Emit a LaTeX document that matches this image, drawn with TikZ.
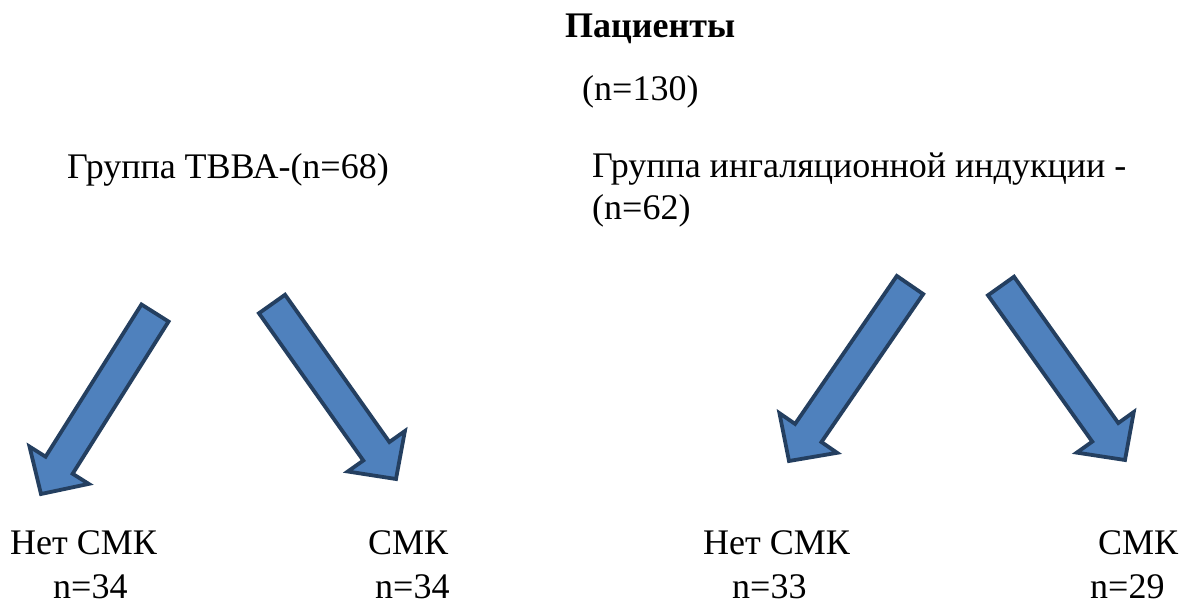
\documentclass[tikz,border=0pt]{standalone}
\usepackage{fontspec}
\setmainfont{Liberation Serif}
\usetikzlibrary{calc,positioning}

\definecolor{arrowfill}{HTML}{4F81BD}
\definecolor{arrowline}{HTML}{243F60}

\tikzset{
  lbl/.style = {anchor = base west, inner sep = 0pt, font = \fontsize{36}{42}\selectfont},
  blockarrow/.style = {fill = arrowfill, draw = arrowline, line width = 3.8pt}
}

% block arrow from tail #1 to tip #2
\newcommand{\blockarrow}[2]{%
\coordinate (#1#2) at ($(#2)!34pt!(#1)$);
\draw[blockarrow] ($(#1)!16pt!90:(#2)$) -- ($(#1#2)!16pt!90:(#2)$) -- ($(#1#2)!35pt!90:(#2)$) -- (#2) -- ($(#1#2)!35pt!-90:(#2)$) -- ($(#1#2)!16pt!-90:(#2)$) -- ($(#1)!16pt!-90:(#2)$) -- cycle;
}

\begin{document}
\begin{tikzpicture}[x = 1pt, y = -1pt]
\fill[white] (0,0) rectangle (1193,605);
\useasboundingbox (0,0) rectangle (1193,605);

\node[lbl, font = \fontsize{36}{42}\selectfont\bfseries] (root) at (565,37) {Пациенты};
\node[lbl] (rootn) at (582,100) {(n=130)};

\node[lbl] (grpA) at (67,178) {Группа ТВВА-(n=68)};
\node[lbl] (grpB) at (592,177) {Группа ингаляционной индукции -};
\node[lbl] (grpBn) at (592,219) {(n=62)};

\node[lbl] (noA) at (10,554) {Нет СМК};
\node[lbl] (noAn) at (53,598) {n=34};
\node[lbl] (yesA) at (368,554) {СМК};
\node[lbl] (yesAn) at (375,598) {n=34};
\node[lbl] (noB) at (703,554) {Нет СМК};
\node[lbl] (noBn) at (732,598) {n=33};
\node[lbl] (yesB) at (1098,554) {СМК};
\node[lbl] (yesBn) at (1090,598) {n=29};

\coordinate (tailA1) at (155,313);
\coordinate (tipA1) at (41,494);
\coordinate (tailA2) at (272,304);
\coordinate (tipA2) at (396,479);
\coordinate (tailB1) at (910,285);
\coordinate (tipB1) at (789,461);
\coordinate (tailB2) at (1001,286);
\coordinate (tipB2) at (1125,460);

\blockarrow{tailA1}{tipA1}
\blockarrow{tailA2}{tipA2}
\blockarrow{tailB1}{tipB1}
\blockarrow{tailB2}{tipB2}
\end{tikzpicture}
\end{document}
